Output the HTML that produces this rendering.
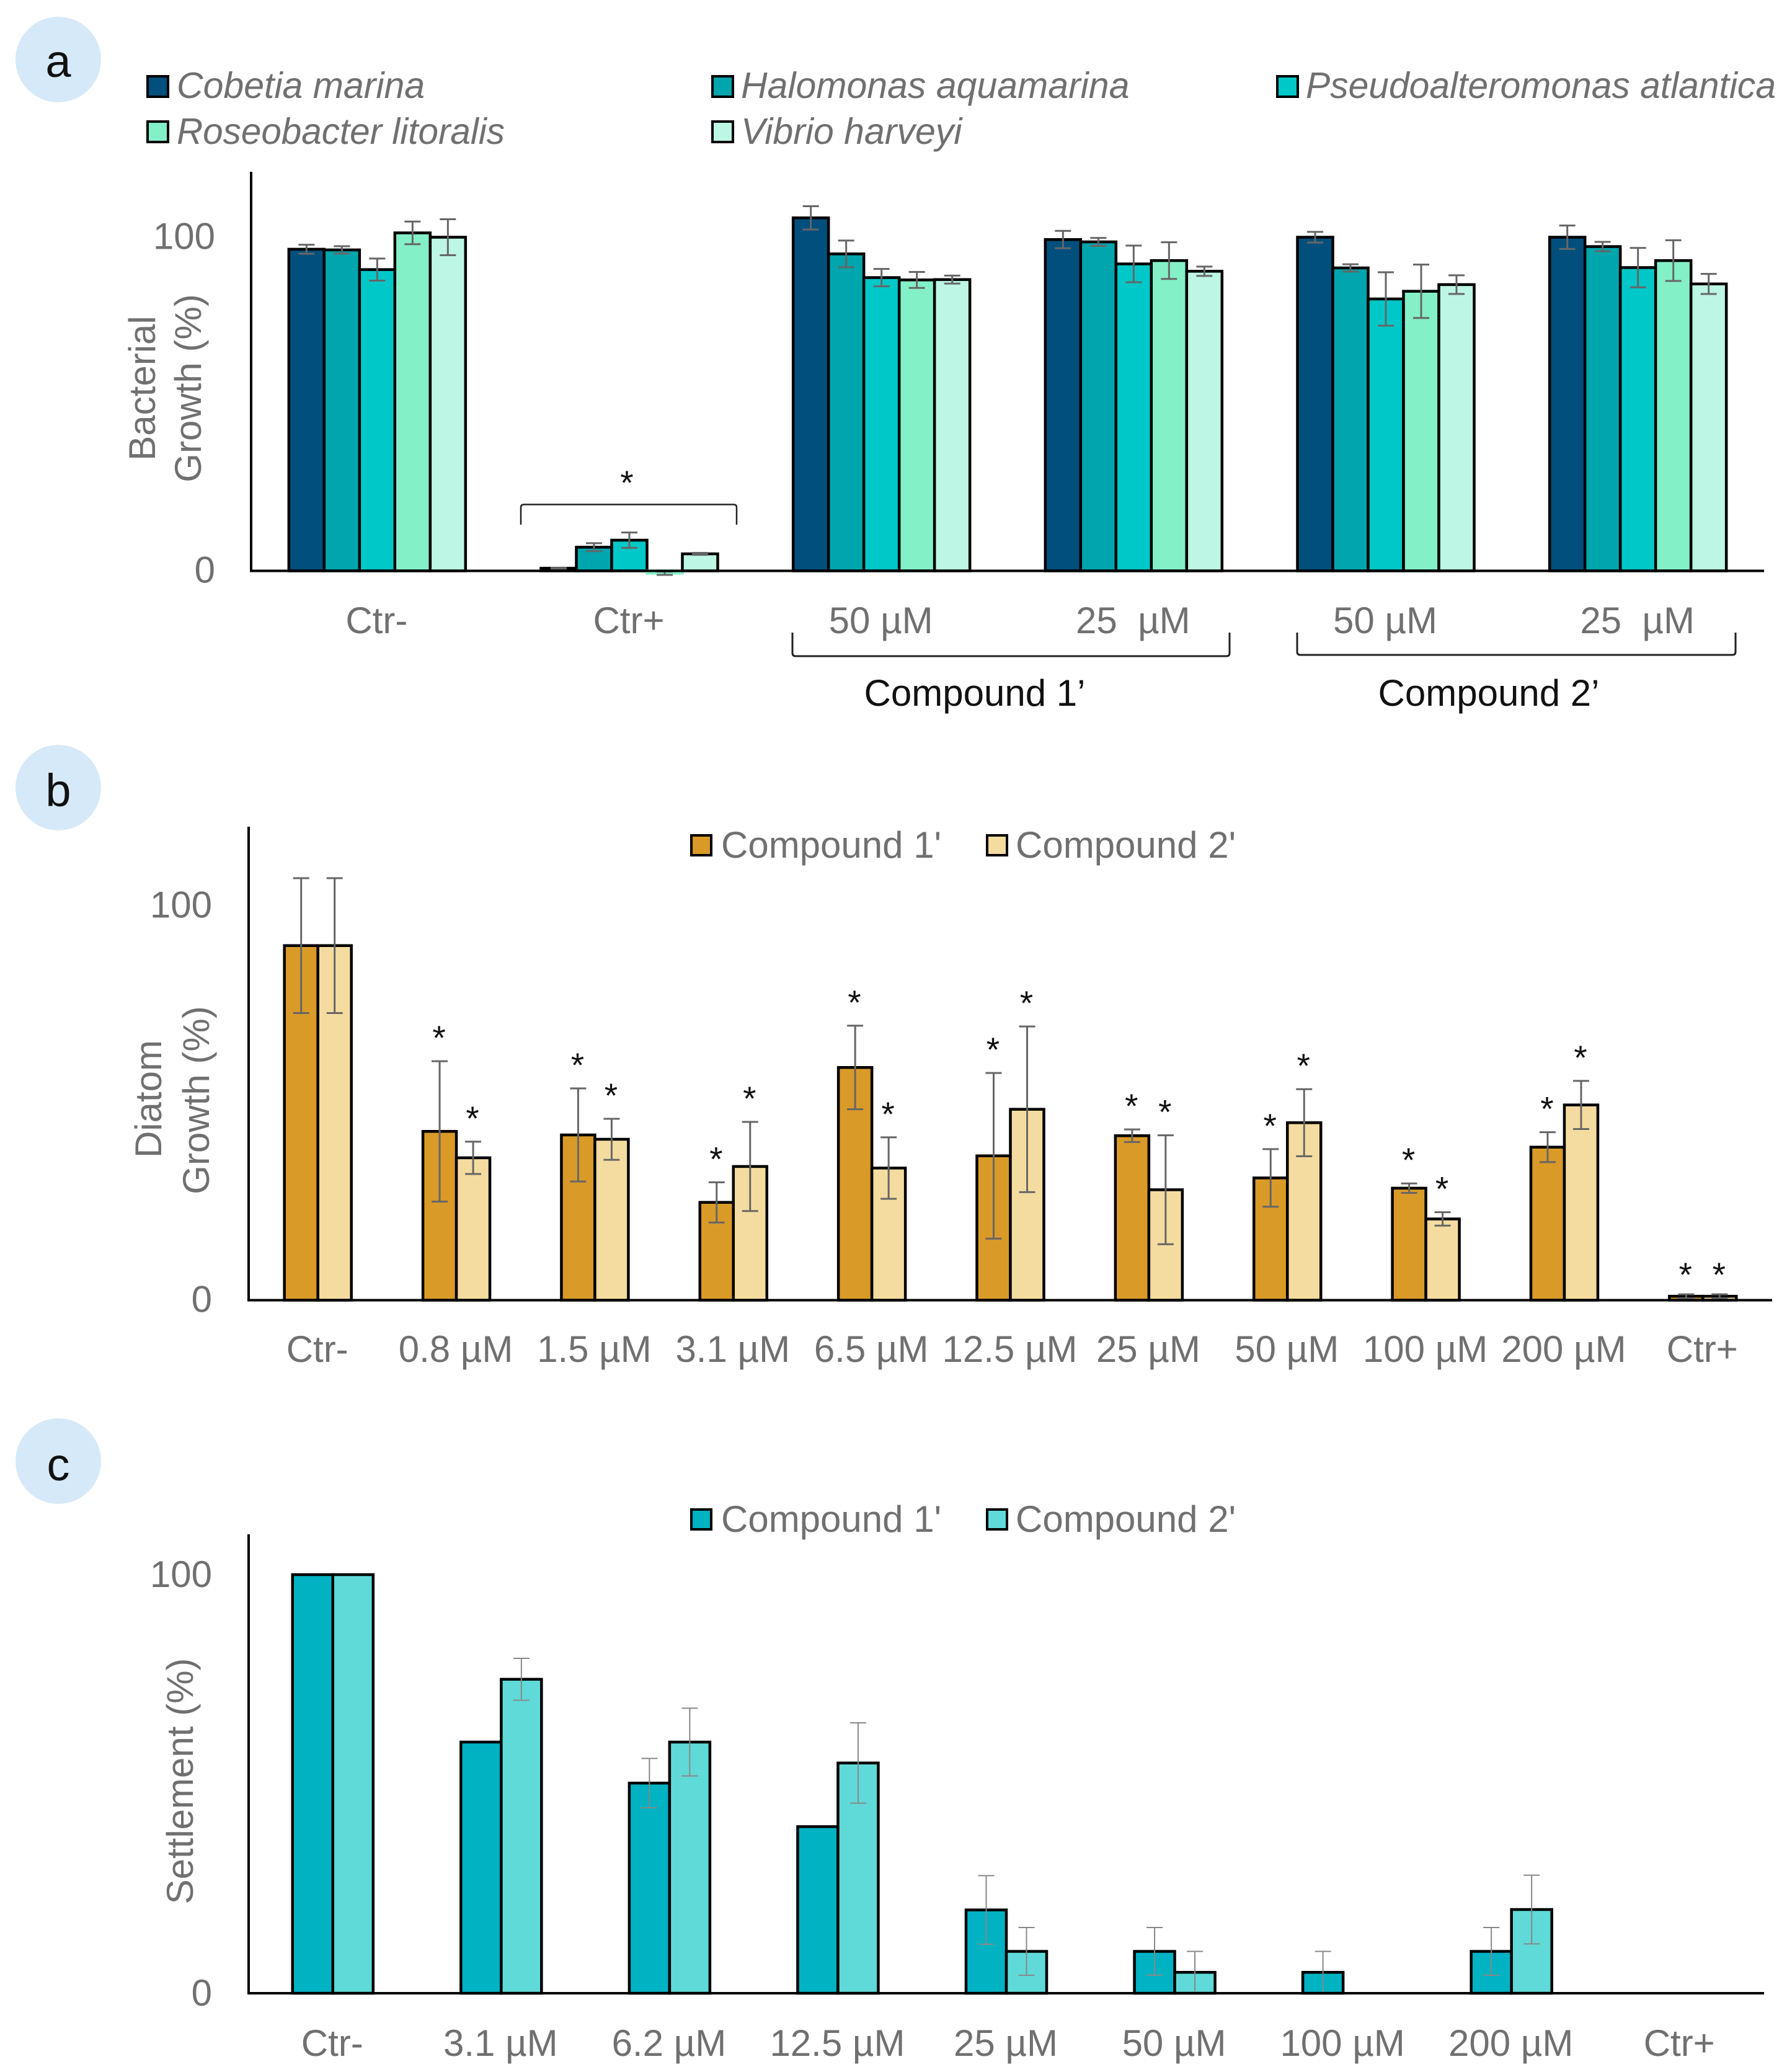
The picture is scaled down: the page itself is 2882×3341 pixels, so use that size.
<!DOCTYPE html>
<html lang="en">
<head>
<meta charset="utf-8">
<title>Bacterial growth, diatom growth and settlement</title>
<style>
  html, body { margin: 0; padding: 0; background: #fff; }
  svg { display: block; }
  text { font-family: "Liberation Sans", sans-serif; }
  .gray { fill: #707070; font-size: 60px; }
  .legend { fill: #707070; font-size: 59px; }
  .legend-wide { fill: #707070; font-size: 60px; }
  .dark { fill: #111; font-size: 60px; }
  .badge { fill: #111; font-size: 74px; }
</style>
</head>
<body>
<svg id="figure" xmlns="http://www.w3.org/2000/svg" width="2882" height="3341" viewBox="0 0 2882 3341">
  <rect width="2882" height="3341" fill="#ffffff"/>

  <!-- Panel badges -->
  <g>
    <circle cx="94" cy="96" r="69" fill="#d6e9f8"/>
    <text class="badge" x="94" y="124" text-anchor="middle">a</text>
  </g>
  <g>
    <circle cx="94" cy="1270" r="69" fill="#d6e9f8"/>
    <text class="badge" x="94" y="1300" text-anchor="middle">b</text>
  </g>
  <g>
    <circle cx="94" cy="2356" r="69" fill="#d6e9f8"/>
    <text class="badge" x="94" y="2387" text-anchor="middle">c</text>
  </g>

  <!-- Panel a legend -->
  <g>
    <g>
      <rect x="238" y="123" width="33" height="33" fill="#004f7c" stroke="#000" stroke-width="4"/>
      <text class="legend" font-style="italic" x="285" y="158">Cobetia marina</text>
    </g>
    <g>
      <rect x="1149" y="123" width="33" height="33" fill="#00a5ad" stroke="#000" stroke-width="4"/>
      <text class="legend" font-style="italic" x="1195" y="158">Halomonas aquamarina</text>
    </g>
    <g>
      <rect x="2060" y="123" width="33" height="33" fill="#00c8c8" stroke="#000" stroke-width="4"/>
      <text class="legend" font-style="italic" x="2106" y="158" textLength="758" lengthAdjust="spacingAndGlyphs">Pseudoalteromonas atlantica</text>
    </g>
    <g>
      <rect x="238" y="196" width="33" height="33" fill="#84f0c8" stroke="#000" stroke-width="4"/>
      <text class="legend" font-style="italic" x="285" y="232" textLength="529" lengthAdjust="spacingAndGlyphs">Roseobacter litoralis</text>
    </g>
    <g>
      <rect x="1149" y="196" width="33" height="33" fill="#bdf6e4" stroke="#000" stroke-width="4"/>
      <text class="legend" font-style="italic" x="1195" y="232">Vibrio harveyi</text>
    </g>
  </g>

  <!-- Panel a titles and annotations -->
  <text class="gray" transform="translate(250,626) rotate(-90)" text-anchor="middle">Bacterial</text>
  <text class="gray" transform="translate(324,626) rotate(-90)" text-anchor="middle">Growth (%)</text>
  <g>
    <path d="M840 846 V818 Q840 813.500 845 813.500 H1183 Q1188 813.500 1188 818 V846" fill="none" stroke="#222" stroke-width="2.500"/>
    <text x="1011" y="797" font-size="55" fill="#111" text-anchor="middle">*</text>
  </g>
  <path d="M1278 1020 V1053 Q1278 1058 1283 1058 H1978 Q1983 1058 1983 1053 V1020" fill="none" stroke="#222" stroke-width="3"/>
  <path d="M2092 1020 V1051 Q2092 1056 2097 1056 H2794 Q2799 1056 2799 1051 V1020" fill="none" stroke="#222" stroke-width="3"/>
  <text class="dark" x="1572" y="1138" text-anchor="middle">Compound 1’</text>
  <text class="dark" x="2401" y="1138" text-anchor="middle">Compound 2’</text>

  <!-- Panel b titles and legend -->
  <text class="gray" transform="translate(260,1772) rotate(-90)" text-anchor="middle">Diatom</text>
  <text class="gray" transform="translate(337,1774) rotate(-90)" text-anchor="middle">Growth (%)</text>
  <g>
    <g>
      <rect x="1115" y="1347" width="32" height="32" fill="#d99a28" stroke="#000" stroke-width="4"/>
      <text class="legend-wide" x="1163" y="1383">Compound 1'</text>
    </g>
    <g>
      <rect x="1592" y="1347" width="32" height="32" fill="#f4dca0" stroke="#000" stroke-width="4"/>
      <text class="legend-wide" x="1638" y="1383">Compound 2'</text>
    </g>
  </g>

  <!-- Panel c titles and legend -->
  <text class="gray" transform="translate(311,2872) rotate(-90)" text-anchor="middle">Settlement (%)</text>
  <g>
    <g>
      <rect x="1115" y="2434" width="32" height="32" fill="#00b2c2" stroke="#000" stroke-width="4"/>
      <text class="legend-wide" x="1163" y="2470">Compound 1'</text>
    </g>
    <g>
      <rect x="1592" y="2434" width="32" height="32" fill="#5fdad8" stroke="#000" stroke-width="4"/>
      <text class="legend-wide" x="1638" y="2470">Compound 2'</text>
    </g>
  </g>

  <g id="plots"></g>
</svg>

<script>
/* ---------- Panel a data ---------- */
const aCategories = ["Ctr-", "Ctr+", "50 µM", "25\u00a0\u00a0µM", "50 µM", "25\u00a0\u00a0µM"];
const aCobetia = [96.4, 0.8, 105.8, 99.3, 100, 100];
const aHalomonas = [96.2, 7.1, 95, 98.6, 90.8, 97.2];
const aPseudo = [90.3, 9.2, 87.9, 92, 81.5, 90.9];
const aRoseobacter = [101.3, -0.7, 87.2, 93, 83.8, 93];
const aVibrio = [100, 5.1, 87.3, 89.8, 85.8, 86];
const aCobetiaErr = [1.35, 0.1, 3.5, 2.6, 1.6, 3.5];
const aHalomonasErr = [1.1, 1.2, 4, 1.2, 1.1, 1.4];
const aPseudoErr = [3.3, 2.3, 2.6, 5.5, 8, 5.9];
const aRoseobacterErr = [3.4, 0.5, 2.4, 5.5, 8, 6.1];
const aVibrioErr = [5.4, 0.3, 1.2, 1.4, 2.8, 3];
const aTicks = [0, 100];

/* ---------- Panel b data ---------- */
const bCategories = ["Ctr-", "0.8 µM", "1.5 µM", "3.1 µM", "6.5 µM", "12.5 µM", "25 µM", "50 µM", "100 µM", "200 µM", "Ctr+"];
const bCompound1 = [89.9, 42.8, 41.9, 24.8, 59, 36.6, 41.7, 31, 28.4, 38.8, 1];
const bCompound2 = [89.9, 36.1, 40.8, 33.9, 33.5, 48.4, 28, 45, 20.6, 49.5, 1];
const bCompound1Err = [17.1, 17.8, 11.8, 5.1, 10.6, 21, 1.6, 7.3, 1.2, 3.8, 0.5];
const bCompound2Err = [17.1, 4.1, 5.2, 11.3, 7.8, 21, 13.8, 8.5, 1.7, 6.1, 0.5];
const bSignificant = [false, true, true, true, true, true, true, true, true, true, true];
const bTicks = [0, 100];

/* ---------- Panel c data ---------- */
const cCategories = ["Ctr-", "3.1 µM", "6.2 µM", "12.5 µM", "25 µM", "50 µM", "100 µM", "200 µM", "Ctr+"];
const cCompound1 = [100, 60, 50.2, 39.8, 19.9, 10, 5, 10, 0];
const cCompound2 = [100, 75, 60, 55, 10, 5, 0, 20, 0];
const cCompound1Err = [0, 0, 5.9, 0, 8.2, 5.7, 5, 5.7, 0];
const cCompound2Err = [0, 5, 8.1, 9.6, 5.7, 5, 0, 8.2, 0];
const cTicks = [0, 100];

/* ---------- Series colours ---------- */
const aColors = ["#004f7c", "#00a5ad", "#00c8c8", "#84f0c8", "#bdf6e4"];
const bColors = ["#d99a28", "#f4dca0"];
const cColors = ["#00b2c2", "#5fdad8"];

const NS = "http://www.w3.org/2000/svg";
const plots = document.getElementById("plots");

function make(tag, attrs, parent) {
  const el = document.createElementNS(NS, tag);
  for (const key in attrs) el.setAttribute(key, attrs[key]);
  parent.appendChild(el);
  return el;
}

function drawPanel(panel) {
  const root = make("g", {}, plots);
  
  

  const band = (panel.right - panel.left) / panel.categories.length;
  const xCenter = function (c) { return panel.left + band * (c + 0.5); };
  const xBar = function (c, s) { return xCenter(c) - panel.barWidth * panel.series.length / 2 + panel.barWidth * s; };
  const y = function (v) { return panel.zeroY - v * panel.unit; };

  /* bars */
  panel.series.forEach(function (values, s) {
    values.forEach(function (v, c) {
      if (v === 0) return;
      const bar = make("rect", {
        x: xBar(c, s),
        y: Math.min(y(v), y(0)),
        width: panel.barWidth,
        height: Math.abs(y(v) - y(0)),
        fill: panel.colors[s],
        stroke: v < 0 ? panel.colors[s] : "#000",
        "stroke-width": 4.5
      }, root);
      
      
    });
  });

  /* error bars and significance marks */
  panel.errors.forEach(function (errs, s) {
    errs.forEach(function (e, c) {
      const v = panel.series[s][c];
      const cx = xBar(c, s) + panel.barWidth / 2;
      if (e > 0) {
        const g = make("g", { stroke: panel.errColor, "stroke-width": panel.errWidth, fill: "none" }, root);
        
        
        make("line", { x1: cx, x2: cx, y1: y(v + e), y2: y(v - e) }, g);
        make("line", { x1: cx - 13, x2: cx + 13, y1: y(v + e), y2: y(v + e) }, g);
        make("line", { x1: cx - 13, x2: cx + 13, y1: y(v - e), y2: y(v - e) }, g);
      }
      if (panel.significant && panel.significant[c]) {
        const lift = e < 1 ? 13 : 19;
        const star = make("text", { x: cx - 1, y: y(v + e) - lift, "font-size": 55, fill: "#111", "text-anchor": "middle" }, root);
        star.textContent = "*";
        
        
      }
    });
  });

  /* axes */
  const yAxis = make("line", { x1: panel.left, x2: panel.left, y1: panel.axisTop, y2: panel.zeroY + 2, stroke: "#000", "stroke-width": 4 }, root);
  
  
  const xAxis = make("line", { x1: panel.left, x2: panel.right, y1: panel.zeroY, y2: panel.zeroY, stroke: "#000", "stroke-width": 4 }, root);
  
  

  /* tick labels */
  panel.ticks.forEach(function (t) {
    const label = make("text", { class: "gray", x: panel.tickRight, y: y(t) + panel.tickDy, "text-anchor": "end" }, root);
    label.textContent = String(t);
    
    
  });
  panel.categories.forEach(function (name, c) {
    const label = make("text", { class: "gray", x: xCenter(c) - 1, y: panel.catY, "text-anchor": "middle" }, root);
    label.textContent = name;
    
    
  });
}

drawPanel({
  id: "a",
  categories: aCategories,
  series: [aCobetia, aHalomonas, aPseudo, aRoseobacter, aVibrio],
  errors: [aCobetiaErr, aHalomonasErr, aPseudoErr, aRoseobacterErr, aVibrioErr],
  colors: aColors,
  ticks: aTicks,
  left: 405, right: 2845, zeroY: 920.5, axisTop: 277, unit: 5.38, barWidth: 57,
  tickRight: 347, tickDy: 19, catY: 1021,
  errColor: "#666", errWidth: 3
});

drawPanel({
  id: "b",
  categories: bCategories,
  series: [bCompound1, bCompound2],
  errors: [bCompound1Err, bCompound2Err],
  colors: bColors,
  ticks: bTicks,
  significant: bSignificant,
  left: 401, right: 2858, zeroY: 2096.5, axisTop: 1333, unit: 6.36, barWidth: 54,
  tickRight: 342, tickDy: 19, catY: 2196,
  errColor: "#666", errWidth: 3
});

drawPanel({
  id: "c",
  categories: cCategories,
  series: [cCompound1, cCompound2],
  errors: [cCompound1Err, cCompound2Err],
  colors: cColors,
  ticks: cTicks,
  left: 401, right: 2845, zeroY: 3214, axisTop: 2474, unit: 6.75, barWidth: 65,
  tickRight: 342, tickDy: 20, catY: 3315,
  errColor: "#888", errWidth: 2
});
</script>
</body>
</html>
